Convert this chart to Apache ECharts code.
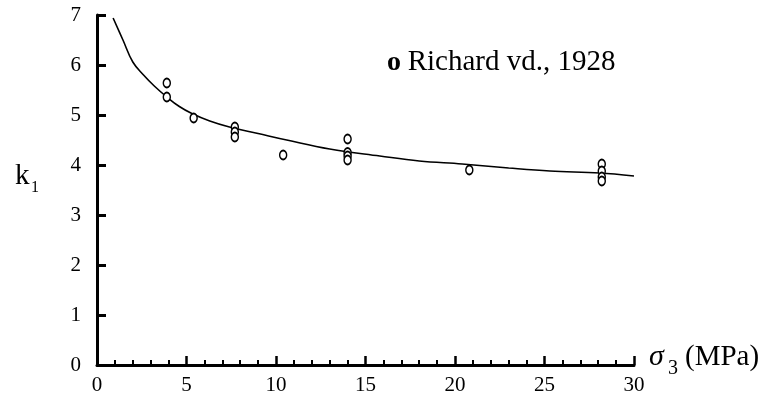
<!DOCTYPE html>
<html>
<head>
<meta charset="utf-8">
<script src="https://cdn.jsdelivr.net/npm/echarts@6/dist/echarts.min.js"></script>
<style>html,body{margin:0;padding:0;background:#fff}#c{width:765px;height:403px}</style>
</head>
<body>
<div id="c"></div>
<script>
// Fitted curve
var curveX = [0.9, 1.45, 2.0, 2.6, 3.2, 3.9, 4.6, 5.3, 6.3, 7.4, 9.0, 10.6, 13, 15.8, 18, 20.4, 23, 25.3, 28.1, 30];
var curveK = [6.94, 6.5, 6.06, 5.8, 5.58, 5.36, 5.17, 5.03, 4.88, 4.76, 4.63, 4.5, 4.32, 4.18, 4.08, 4.02, 3.94, 3.88, 3.84, 3.78];
// Experimental points: Richard vd., 1928
var ptsX = [3.9, 3.9, 5.4, 7.7, 7.7, 7.7, 10.4, 14, 14, 14, 14, 20.8, 28.2, 28.2, 28.2, 28.2];
var ptsK = [5.64, 5.36, 4.94, 4.76, 4.66, 4.56, 4.2, 4.52, 4.25, 4.18, 4.1, 3.9, 4.02, 3.88, 3.76, 3.68];
var xTicks = [0, 5, 10, 15, 20, 25, 30];
var yTicks = [0, 1, 2, 3, 4, 5, 6, 7];
var legendText = 'Richard vd., 1928';

var FONT = '"Liberation Serif", "Times New Roman", serif';
var chart = echarts.init(document.getElementById('c'));
chart.setOption({
  animation: false,
  backgroundColor: '#fff',
  grid: {left: 97, right: 131, top: 15, bottom: 38, containLabel: false},
  xAxis: {
    type: 'value', min: xTicks[0], max: xTicks[xTicks.length - 1], interval: 5,
    axisLine: {show: true, lineStyle: {color: '#000', width: 3}},
    axisTick: {show: true, inside: true, length: 9, lineStyle: {color: '#000', width: 2.5}},
    minorTick: {show: true, splitNumber: 5, length: 5, lineStyle: {color: '#000', width: 2}},
    splitLine: {show: false},
    axisLabel: {color: '#000', fontFamily: FONT, fontSize: 21, margin: 10}
  },
  yAxis: {
    type: 'value', min: yTicks[0], max: yTicks[yTicks.length - 1], interval: 1,
    axisLine: {show: true, lineStyle: {color: '#000', width: 3}},
    axisTick: {show: true, inside: true, length: 9, lineStyle: {color: '#000', width: 3}},
    splitLine: {show: false},
    axisLabel: {color: '#000', fontFamily: FONT, fontSize: 21, margin: 16}
  },
  series: [
    {
      type: 'line', smooth: 0.4, symbol: 'none',
      data: curveX.map(function (x, i) { return [x, curveK[i]]; }),
      lineStyle: {color: '#000', width: 1.6}, z: 2
    },
    {
      type: 'scatter', symbol: 'circle', symbolSize: [7, 9],
      data: ptsX.map(function (x, i) { return [x, ptsK[i]]; }),
      itemStyle: {color: '#fff', borderColor: '#000', borderWidth: 1.6, opacity: 1}, z: 3
    }
  ],
  graphic: [
    {type: 'text', left: 15, top: 162, style: {text: 'k', font: '29px ' + FONT, fill: '#000'}},
    {type: 'text', left: 31, top: 180, style: {text: '1', font: '16px ' + FONT, fill: '#000'}},
    {type: 'text', left: 649, top: 342, style: {text: 'σ', font: 'italic 30px ' + FONT, fill: '#000'}},
    {type: 'text', left: 668, top: 359, style: {text: '3', font: '20px ' + FONT, fill: '#000'}},
    {type: 'text', left: 685, top: 343, style: {text: '(MPa)', font: '29px ' + FONT, fill: '#000'}},
    {type: 'text', left: 387, top: 48, style: {
      text: '{b|o}  {t|' + legendText + '}',
      rich: {
        b: {font: 'bold 28px ' + FONT, fill: '#000'},
        t: {font: '29px ' + FONT, fill: '#000'}
      }
    }}
  ]
});
</script>
</body>
</html>
